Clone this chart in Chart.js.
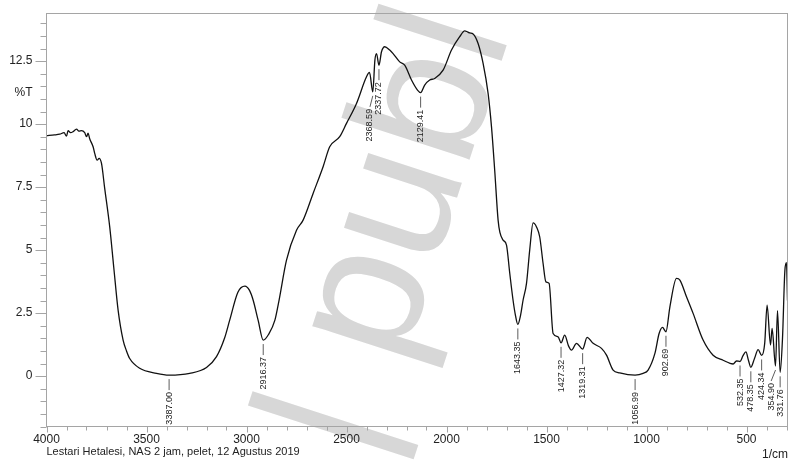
<!DOCTYPE html>
<html>
<head>
<meta charset="utf-8">
<script src="https://cdn.jsdelivr.net/npm/chart.js@4/dist/chart.umd.min.js"></script>
<style>
  html, body { margin: 0; padding: 0; background: #fff; }
  canvas { display: block; }
</style>
</head>
<body>
<canvas id="spectrum" width="790" height="462"></canvas>
<script>
// FTIR spectrum: wavenumber (1/cm) against transmittance (%T)
const wavenumbers = [
  4000, 3960, 3934, 3912, 3900, 3892, 3880, 3867, 3850, 3838, 3825, 3809, 3800, 3792, 3784,
  3767, 3759, 3747, 3737, 3725, 3709, 3684, 3664, 3642, 3617, 3600, 3584, 3534, 3450, 3387.00,
  3284, 3200, 3150, 3110, 3084, 3043, 3008, 2985, 2967, 2942, 2916.37, 2890, 2858, 2837, 2800,
  2750, 2717, 2667, 2617, 2584, 2534, 2500, 2450, 2400, 2385, 2368.59, 2358, 2350, 2337.72, 2325,
  2309, 2284, 2267, 2234, 2209, 2175, 2145, 2129.41, 2109, 2084, 2059, 2017, 1975, 1934, 1909,
  1895, 1884, 1867, 1842, 1817, 1792, 1775, 1759, 1742, 1733, 1717, 1700, 1684, 1667, 1655,
  1643.35, 1630, 1617, 1600, 1584, 1567, 1560, 1550, 1534, 1517, 1503, 1487, 1467, 1442, 1427.32,
  1409, 1390, 1375, 1350, 1319.31, 1297, 1267, 1225, 1200, 1167, 1134, 1056.99, 1017, 992, 958,
  937, 920, 902.69, 883, 850, 833, 800, 767, 717, 667, 617, 567, 550, 532.35, 518,
  503, 490, 478.35, 460, 442, 424.34, 409, 397, 380, 372, 354.90, 345, 331.76, 320, 308,
  300, 295
];
const transmittance = [
  9.54, 9.57, 9.60, 9.66, 9.52, 9.74, 9.66, 9.70, 9.80, 9.72, 9.74, 9.66, 9.50, 9.64, 9.42,
  9.10, 8.84, 8.57, 8.64, 8.44, 7.45, 5.93, 4.34, 2.62, 1.43, 1.00, 0.70, 0.31, 0.11, 0.04,
  0.11, 0.34, 0.77, 1.50, 2.22, 3.33, 3.57, 3.40, 3.02, 2.22, 1.43, 1.65, 2.22, 3.02, 4.60,
  5.79, 6.19, 7.25, 8.31, 9.10, 9.50, 10.03, 10.82, 11.88, 12.05, 11.28, 12.54, 12.80, 12.34, 12.87,
  13.07, 12.94, 12.80, 12.47, 12.34, 11.75, 11.35, 11.25, 11.55, 11.75, 11.81, 12.14, 12.94, 13.47, 13.70,
  13.66, 13.62, 13.58, 13.20, 12.41, 11.22, 9.89, 8.17, 6.19, 5.70, 5.40, 5.20, 4.10, 3.00, 2.40,
  2.05, 2.40, 3.02, 3.68, 5.00, 6.08, 6.05, 5.92, 5.53, 4.47, 3.74, 3.68, 1.69, 1.56, 1.32,
  1.63, 1.20, 1.03, 1.30, 1.07, 1.54, 1.30, 1.10, 0.83, 0.24, 0.13, 0.04, 0.11, 0.24, 0.90,
  1.69, 1.93, 1.76, 2.75, 3.88, 3.81, 3.15, 2.49, 1.43, 0.83, 0.63, 0.48, 0.60, 0.58, 0.80,
  0.96, 0.62, 0.35, 0.70, 1.05, 0.82, 1.30, 2.82, 1.23, 1.89, 0.40, 2.60, 0.15, 1.50, 4.20,
  4.50, 3.00
];

// Marked band positions (1/cm)
const peakLabels = [3387.00, 2916.37, 2368.59, 2337.72, 2129.41, 1643.35, 1427.32, 1319.31,
                    1056.99, 902.69, 532.35, 478.35, 424.34, 354.90, 331.76];

const xTickLabels = [4000, 3500, 3000, 2500, 2000, 1500, 1000, 500];
const yTickLabels = [0, 2.5, 5, 7.5, 10, 12.5];
const xMinorStep = 100;
const yMinorStep = 0.5;
const yAxisTitle = '%T';
const xAxisUnit = '1/cm';
const sampleNote = 'Lestari Hetalesi, NAS 2 jam, pelet, 12 Agustus 2019';
const watermarkText = '| publ';

const FONT = '"Liberation Sans", Arial, sans-serif';

function valueAt(wn) {
  for (let i = 0; i < wavenumbers.length - 1; i++) {
    const a = wavenumbers[i], b = wavenumbers[i + 1];
    if (wn <= a && wn >= b) {
      const t = (a - wn) / (a - b);
      return transmittance[i] + t * (transmittance[i + 1] - transmittance[i]);
    }
  }
  return transmittance[transmittance.length - 1];
}

const spectrumDecor = {
  id: 'spectrumDecor',
  beforeDraw(chart) {
    const ctx = chart.ctx;
    ctx.save();
    ctx.fillStyle = '#fff';
    ctx.fillRect(0, 0, chart.width, chart.height);
    // faint diagonal watermark behind the plot
    ctx.translate(371, 463);
    ctx.rotate(-72 * Math.PI / 180);
    ctx.font = '186px ' + FONT;
    ctx.fillStyle = '#d7d7d7';
    ctx.textBaseline = 'alphabetic';
    ctx.textAlign = 'left';
    ctx.fillText(watermarkText, 0, 0);
    ctx.restore();
  },
  afterDraw(chart) {
    const { ctx, chartArea: a } = chart;
    const xs = chart.scales.x, ys = chart.scales.y;
    ctx.save();

    // frame
    ctx.strokeStyle = '#a5a5a5';
    ctx.lineWidth = 1;
    ctx.strokeRect(a.left, a.top, a.right - a.left, a.bottom - a.top);

    // x ticks
    ctx.beginPath();
    for (let v = xs.max - (xs.max % xMinorStep); v >= xs.min; v -= xMinorStep) {
      const px = Math.round(xs.getPixelForValue(v)) + 0.5;
      const len = xTickLabels.includes(v) ? 6 : 4;
      ctx.moveTo(px, a.bottom);
      ctx.lineTo(px, a.bottom + len);
    }
    // y ticks
    for (let v = ys.min; v <= ys.max + 1e-9; v += yMinorStep) {
      const py = Math.round(ys.getPixelForValue(v)) + 0.5;
      const major = yTickLabels.some(t => Math.abs(t - v) < 1e-6);
      ctx.moveTo(a.left - (major ? 11 : 6), py);
      ctx.lineTo(a.left, py);
    }
    ctx.stroke();

    // tick labels
    ctx.fillStyle = '#222';
    ctx.font = '12px ' + FONT;
    ctx.textAlign = 'center';
    ctx.textBaseline = 'middle';
    xTickLabels.forEach(v => ctx.fillText(String(v), xs.getPixelForValue(v), 439.5));
    ctx.textAlign = 'right';
    yTickLabels.forEach(v => ctx.fillText(String(v), 32.5, ys.getPixelForValue(v)));
    ctx.fillText(yAxisTitle, 32.5, ys.getPixelForValue(11.25));

    ctx.font = '11px ' + FONT;
    ctx.textAlign = 'left';
    ctx.fillText(sampleNote, 46.5, 451.5);
    ctx.font = '12px ' + FONT;
    ctx.textAlign = 'right';
    ctx.fillText(xAxisUnit, 788, 455);

    // band labels, spread apart where they would overlap
    const gap = 9;
    const marks = peakLabels.map(wn => ({
      wn,
      x: xs.getPixelForValue(wn),
      y: ys.getPixelForValue(valueAt(wn))
    }));
    const lx = marks.map(m => m.x);
    for (let i = marks.length - 2; i >= 0; i--) {
      lx[i] = Math.min(lx[i], lx[i + 1] - gap);
    }
    ctx.strokeStyle = '#333';
    ctx.lineWidth = 0.8;
    ctx.fillStyle = '#222';
    ctx.font = '9px ' + FONT;
    marks.forEach((m, i) => {
      const y0 = m.y + 4, y1 = m.y + 15;
      ctx.beginPath();
      ctx.moveTo(m.x, y0);
      ctx.lineTo(lx[i], y1);
      ctx.stroke();
      ctx.save();
      ctx.translate(lx[i], y1 + 2);
      ctx.rotate(-Math.PI / 2);
      ctx.textAlign = 'right';
      ctx.textBaseline = 'middle';
      ctx.fillText(m.wn.toFixed(2), 0, 0);
      ctx.restore();
    });
    ctx.restore();
  }
};

new Chart(document.getElementById('spectrum'), {
  type: 'line',
  data: {
    datasets: [{
      data: wavenumbers.map((w, i) => ({ x: w, y: transmittance[i] })),
      borderColor: '#111',
      borderWidth: 1.3,
      pointRadius: 0,
      cubicInterpolationMode: 'monotone',
      fill: false
    }]
  },
  options: {
    responsive: false,
    animation: false,
    events: [],
    layout: { padding: { left: 46.5, right: 2.5, top: 13.5, bottom: 35.5 } },
    plugins: { legend: { display: false }, tooltip: { enabled: false } },
    scales: {
      x: { type: 'linear', reverse: true, min: 295, max: 4000, display: false },
      y: { min: -2, max: 14.39, display: false }
    }
  },
  plugins: [spectrumDecor]
});
</script>
</body>
</html>
